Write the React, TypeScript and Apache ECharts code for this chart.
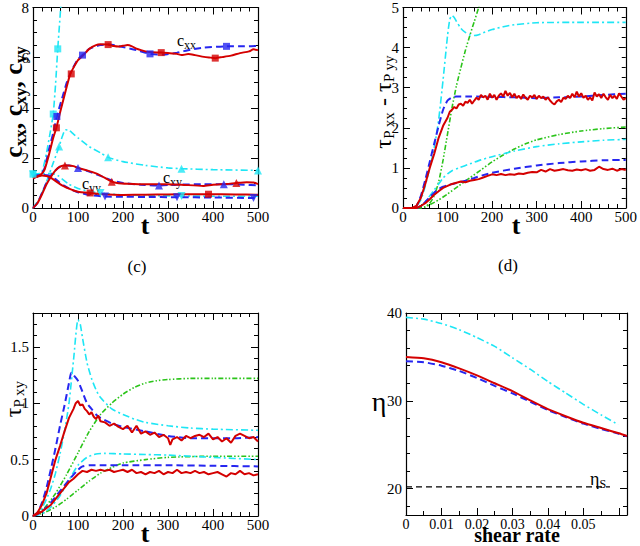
import { useEffect, useRef } from "react";
import * as echarts from "echarts";

// panel (c) top-left: conformation tensor components vs t
const cxxRed = [[0,1.2],[15,1.3],[25,1.5],[35,2.1],[45,2.8],[52,3.2],[60,3.8],[70,4.5],[82,5.3],[90,5.6],[100,5.9],[112,6.1],[125,6.35],[140,6.5],[150,6.53],[167,6.52],[180,6.46],[190,6.44],[200,6.47],[210,6.5],[220,6.45],[230,6.36],[240,6.3],[250,6.25],[260,6.22],[285,6.2],[300,6.18],[320,6.15],[330,6.1],[345,6.14],[360,6.1],[380,6.03],[395,6.0],[405,5.98],[420,6.02],[440,6.08],[460,6.18],[480,6.25],[490,6.33],[500,6.3]];
const cxxBlue = [[0,1.2],[15,1.3],[25,1.55],[35,2.3],[45,3.0],[53,3.65],[65,4.4],[75,5.0],[85,5.45],[100,5.95],[110,6.1],[125,6.35],[150,6.5],[170,6.52],[200,6.42],[230,6.3],[260,6.15],[290,6.12],[320,6.2],[350,6.32],[380,6.4],[430,6.45],[470,6.45],[500,6.47]];
const cxxCyan = [[0,1.35],[10,1.35],[20,1.45],[30,2.2],[40,3.2],[45,3.75],[50,4.9],[55,6.35],[60,7.6],[64,8.6]];
const cxyRed = [[0,0],[10,0.2],[20,0.55],[30,0.95],[40,1.25],[50,1.5],[60,1.65],[71,1.7],[80,1.7],[90,1.67],[100,1.6],[120,1.5],[140,1.38],[160,1.2],[175,1.05],[190,0.99],[210,0.97],[250,0.95],[300,0.95],[330,0.93],[378,0.88],[400,0.93],[430,0.96],[452,1.0],[475,1.03],[490,1.02],[500,0.95]];
const cxyBlue = [[0,0],[10,0.2],[20,0.6],[30,1.0],[40,1.3],[50,1.5],[60,1.65],[70,1.7],[80,1.7],[100,1.6],[125,1.45],[150,1.28],[175,1.1],[200,1.0],[240,0.93],[280,0.9],[320,0.93],[380,0.95],[424,0.95],[470,0.93],[500,0.9]];
const cxyCyan = [[0,0],[15,0.4],[30,1.05],[45,1.8],[58,2.45],[65,2.85],[72,3.12],[80,3.1],[90,2.95],[100,2.8],[125,2.45],[150,2.2],[167,2.02],[200,1.85],[250,1.7],[300,1.6],[330,1.57],[400,1.53],[500,1.5]];
const cyyRed = [[0,1.2],[10,1.25],[20,1.3],[30,1.28],[40,1.2],[50,1.08],[60,0.95],[70,0.85],[80,0.77],[90,0.7],[100,0.65],[127,0.6],[150,0.56],[200,0.52],[250,0.53],[300,0.54],[350,0.55],[390,0.55],[450,0.54],[500,0.53]];
const cyyBlue = [[0,1.3],[20,1.32],[35,1.3],[50,1.15],[60,1.0],[70,0.88],[80,0.78],[100,0.63],[125,0.52],[160,0.46],[200,0.45],[250,0.44],[320,0.43],[400,0.42],[490,0.4],[500,0.4]];
const cyyCyan = [[0,1.35],[20,1.37],[40,1.38],[55,1.3],[65,1.15],[80,0.95],[100,0.78],[120,0.68],[150,0.6],[160,0.58],[200,0.52],[250,0.5],[330,0.48],[400,0.47],[500,0.47]];
const cxxRedMarks = [[52,3.2],[85,5.35],[167,6.52],[285,6.2],[405,5.98]];
const cxxBlueMarks = [[53,3.65],[110,6.1],[260,6.15],[430,6.45]];
const cxxCyanMarks = [[0,1.35],[45,3.75],[55,6.35]];
const cxyRedMarks = [[71,1.7],[175,1.05],[452,1.0]];
const cxyBlueMarks = [[100,1.6],[280,0.9],[424,0.95]];
const cxyCyanMarks = [[58,2.45],[167,2.02],[330,1.57],[500,1.5]];
const cyyRedMarks = [[127,0.6],[390,0.55]];
const cyyBlueMarks = [[160,0.46],[320,0.43],[490,0.4]];
const cyyCyanMarks = [[0,1.35],[150,0.6],[330,0.48]];

// panel (d) top-right: first normal stress difference vs t
const n1RedHi = [[0,0],[20,0],[30,0.05],[40,0.25],[50,0.6],[60,1.0],[70,1.35],[80,1.75],[90,2.05],[100,2.25],[105,2.4],[110,2.45],[115,2.52],[120,2.48],[125,2.58],[130,2.6],[135,2.55],[140,2.65],[145,2.62],[150,2.7],[155,2.6],[160,2.68],[165,2.75],[170,2.7],[175,2.82],[180,2.76],[185,2.8],[190,2.7],[195,2.85],[200,2.75],[205,2.82],[210,2.7],[215,2.8],[220,2.86],[225,2.78],[230,2.92],[235,2.8],[240,2.87],[245,2.76],[250,2.85],[255,2.74],[260,2.8],[265,2.72],[270,2.83],[275,2.75],[280,2.7],[285,2.8],[290,2.76],[295,2.82],[300,2.72],[305,2.8],[310,2.74],[315,2.78],[320,2.7],[325,2.76],[330,2.68],[335,2.62],[340,2.58],[345,2.66],[350,2.7],[355,2.64],[360,2.75],[365,2.72],[370,2.8],[375,2.74],[380,2.85],[385,2.76],[390,2.9],[395,2.78],[400,2.86],[405,2.75],[410,2.8],[415,2.7],[420,2.76],[425,2.68],[430,2.88],[435,2.78],[440,2.84],[445,2.74],[450,2.85],[455,2.76],[460,2.7],[465,2.82],[470,2.74],[475,2.8],[480,2.72],[485,2.86],[490,2.78],[495,2.7],[500,2.74]];
const n1BlueHi = [[0,0],[20,0],[30,0.05],[40,0.3],[50,0.7],[60,1.15],[70,1.6],[80,2.05],[90,2.45],[100,2.68],[110,2.76],[120,2.78],[150,2.78],[200,2.77],[250,2.76],[300,2.74],[350,2.76],[400,2.78],[450,2.82],[500,2.85]];
const n1CyanHi = [[0,0],[20,0],[30,0.05],[40,0.2],[50,0.55],[60,1.0],[70,1.5],[80,2.2],[90,3.2],[100,4.3],[105,4.7],[110,4.8],[115,4.75],[120,4.65],[130,4.48],[140,4.38],[150,4.32],[160,4.3],[170,4.32],[180,4.37],[200,4.45],[225,4.52],[250,4.57],[300,4.62],[400,4.63],[500,4.63]];
const n1GreenHi = [[0,0],[40,0],[50,0.03],[60,0.12],[70,0.3],[80,0.65],[90,1.2],[100,1.85],[110,2.5],[120,3.05],[130,3.5],[140,3.93],[150,4.3],[160,4.65],[170,5.0],[180,5.35]];
const n1RedLo = [[0,0],[30,0],[40,0.05],[50,0.12],[60,0.22],[70,0.33],[80,0.42],[90,0.5],[100,0.55],[110,0.6],[120,0.63],[130,0.66],[140,0.64],[150,0.68],[160,0.7],[170,0.72],[180,0.76],[190,0.8],[200,0.84],[210,0.82],[220,0.85],[230,0.82],[240,0.84],[250,0.83],[260,0.86],[270,0.85],[280,0.88],[290,0.9],[300,0.89],[310,0.95],[320,0.91],[330,0.97],[340,0.93],[350,0.95],[360,0.97],[370,0.94],[380,0.93],[390,0.96],[400,0.94],[410,0.97],[420,0.93],[430,0.95],[440,1.03],[450,0.97],[460,0.95],[470,0.98],[480,0.93],[490,0.97],[500,0.95]];
const n1BlueLo = [[0,0],[30,0],[40,0.05],[50,0.15],[60,0.27],[70,0.38],[80,0.47],[90,0.53],[100,0.57],[120,0.62],[140,0.68],[160,0.75],[180,0.82],[200,0.88],[250,0.98],[300,1.06],[350,1.12],[400,1.16],[450,1.19],[500,1.2]];
const n1CyanLo = [[0,0],[30,0],[40,0.05],[50,0.15],[60,0.3],[70,0.45],[80,0.6],[90,0.75],[100,0.85],[110,0.93],[125,1.0],[150,1.1],[175,1.2],[200,1.28],[250,1.42],[300,1.53],[350,1.6],[400,1.65],[450,1.69],[500,1.71]];
const n1GreenLo = [[0,0],[40,0],[50,0.03],[60,0.08],[80,0.2],[100,0.35],[125,0.55],[150,0.75],[175,0.95],[200,1.15],[225,1.32],[250,1.47],[275,1.6],[300,1.7],[350,1.83],[400,1.92],[450,1.98],[500,2.02]];

// panel bottom-left: shear stress vs t
const sxyRedHi = [[0,0],[10,0.03],[20,0.1],[30,0.2],[40,0.35],[50,0.5],[60,0.62],[70,0.75],[80,0.87],[90,0.95],[95,1.0],[100,1.02],[105,0.98],[110,0.99],[115,0.95],[120,0.93],[125,0.9],[130,0.92],[135,0.88],[140,0.86],[145,0.89],[150,0.84],[160,0.83],[170,0.8],[180,0.82],[190,0.79],[200,0.77],[210,0.8],[220,0.74],[230,0.8],[240,0.73],[250,0.75],[260,0.72],[270,0.74],[280,0.7],[290,0.72],[300,0.69],[305,0.63],[310,0.68],[320,0.7],[330,0.67],[340,0.71],[350,0.69],[360,0.71],[370,0.72],[380,0.7],[390,0.73],[400,0.68],[410,0.7],[420,0.66],[430,0.69],[440,0.65],[450,0.71],[460,0.73],[470,0.71],[480,0.69],[490,0.7],[500,0.66]];
const sxyBlueHi = [[0,0],[10,0.03],[20,0.12],[30,0.25],[40,0.42],[50,0.6],[60,0.8],[70,0.98],[80,1.18],[85,1.27],[90,1.25],[100,1.2],[110,1.1],[120,1.0],[130,0.95],[140,0.9],[150,0.87],[175,0.82],[200,0.79],[250,0.75],[300,0.71],[350,0.69],[400,0.69],[450,0.69],[500,0.7]];
const sxyCyanHi = [[0,0],[10,0.02],[20,0.07],[30,0.15],[40,0.25],[50,0.38],[60,0.55],[70,0.75],[80,1.0],[90,1.38],[100,1.74],[105,1.7],[110,1.58],[120,1.36],[130,1.22],[140,1.12],[150,1.05],[175,0.95],[200,0.9],[225,0.86],[250,0.83],[300,0.8],[350,0.78],[400,0.77],[500,0.76]];
const sxyGreenHi = [[0,0],[25,0.07],[50,0.2],[75,0.37],[100,0.56],[125,0.75],[150,0.9],[175,1.0],[200,1.08],[225,1.14],[250,1.18],[275,1.2],[300,1.21],[350,1.22],[400,1.22],[500,1.22]];
const sxyRedLo = [[0,0],[20,0.04],[40,0.1],[60,0.2],[80,0.3],[90,0.33],[100,0.37],[110,0.4],[120,0.39],[130,0.41],[140,0.4],[150,0.41],[160,0.4],[170,0.41],[180,0.39],[190,0.4],[200,0.41],[210,0.39],[220,0.41],[230,0.38],[240,0.39],[250,0.37],[260,0.39],[270,0.38],[280,0.4],[290,0.37],[300,0.39],[310,0.38],[320,0.41],[330,0.38],[340,0.39],[350,0.38],[360,0.4],[370,0.38],[380,0.39],[390,0.37],[400,0.38],[410,0.39],[420,0.37],[430,0.35],[440,0.38],[450,0.37],[460,0.4],[470,0.37],[480,0.38],[490,0.36],[500,0.37]];
const sxyBlueLo = [[0,0],[20,0.04],[40,0.12],[60,0.22],[80,0.32],[100,0.41],[110,0.44],[125,0.45],[150,0.45],[200,0.45],[300,0.45],[400,0.445],[500,0.44]];
const sxyCyanLo = [[0,0],[20,0.02],[40,0.08],[60,0.18],[80,0.32],[100,0.45],[120,0.52],[140,0.55],[160,0.555],[200,0.55],[250,0.545],[300,0.54],[400,0.52],[500,0.5]];
const sxyGreenLo = [[0,0],[25,0.03],[50,0.08],[75,0.15],[100,0.23],[125,0.31],[150,0.38],[175,0.43],[200,0.47],[250,0.5],[300,0.52],[400,0.53],[500,0.53]];

// panel bottom-right: viscosity vs shear rate
const etaRed = [[0,35.0],[0.005,34.85],[0.01,34.4],[0.015,33.7],[0.02,32.9],[0.025,32.0],[0.03,31.1],[0.035,30.05],[0.04,29.05],[0.045,28.25],[0.05,27.5],[0.055,26.9],[0.06,26.3],[0.0623,26.0]];
const etaBlue = [[0,34.5],[0.005,34.4],[0.01,34.0],[0.015,33.4],[0.02,32.6],[0.025,31.7],[0.03,30.85],[0.035,29.9],[0.04,28.95],[0.045,28.15],[0.05,27.4],[0.055,26.8],[0.06,26.25],[0.0623,25.95]];
const etaCyan = [[0,39.5],[0.005,39.3],[0.01,38.8],[0.015,38.1],[0.02,37.2],[0.025,36.2],[0.03,34.9],[0.035,33.6],[0.04,32.2],[0.045,30.9],[0.05,29.6],[0.055,28.4],[0.0598,27.3]];
const etaSolvent = [[0,20.2],[0.0575,20.2]];

const RED = "#d40000";
const BLUE = "#2626f0";
const CYAN = "#1ee6f5";
const GREEN = "#2bc41a";
const SERIF = "'Liberation Serif', 'DejaVu Serif', serif";

const grids = [
  { left: 33, top: 5, width: 225, height: 203 },
  { left: 403, top: 5, width: 224, height: 203 },
  { left: 33, top: 313, width: 225, height: 203 },
  { left: 406, top: 313, width: 221, height: 202 },
];

const styles: any = {
  red: { color: RED, width: 2, type: "solid" },
  blue: { color: BLUE, width: 2, type: [7, 4] },
  cyan: { color: CYAN, width: 1.6, type: [7, 3, 2, 3] },
  green: { color: GREEN, width: 1.6, type: [5, 2, 1.5, 2, 1.5, 2] },
  black: { color: "#000", width: 1.2, type: [6, 4] },
};

function line(data: number[][], style: string, g: number, smooth = true) {
  return {
    type: "line",
    data,
    xAxisIndex: g * 2,
    yAxisIndex: g * 2,
    showSymbol: false,
    symbol: "none",
    smooth: smooth ? 0.2 : false,
    lineStyle: styles[style],
    clip: true,
  };
}

function marks(data: number[][], color: string, shape: string, g: number) {
  const down = shape === "down";
  return {
    type: "scatter",
    data,
    xAxisIndex: g * 2,
    yAxisIndex: g * 2,
    symbol: shape === "rect" ? "rect" : "triangle",
    symbolRotate: down ? 180 : 0,
    symbolSize: shape === "rect" ? 7 : 8,
    itemStyle: { color },
    z: 3,
  };
}

function axisPair(dim: "x" | "y", g: number, o: any) {
  const base = {
    type: "value",
    gridIndex: g,
    min: o.min,
    max: o.max,
    interval: o.interval,
    splitNumber: o.splitNumber,
    splitLine: { show: false },
    axisLine: { show: true, onZero: false, lineStyle: { color: "#000", width: 1.2 } },
    axisTick: { show: true, inside: true, length: 7, lineStyle: { color: "#000" } },
    minorTick: { show: true, splitNumber: o.minor, length: 4, lineStyle: { color: "#000" } },
  };
  const fmt = (v: number) => (o.keep(v) ? String(+v.toFixed(4)) : "");
  const main = {
    ...base,
    position: dim === "x" ? "bottom" : "left",
    axisLabel: {
      show: true,
      fontFamily: SERIF,
      fontSize: o.font || 15,
      lineHeight: 12,
      color: "#000",
      margin: dim === "x" ? 3 : 4,
      formatter: fmt,
      showMinLabel: true,
      showMaxLabel: true,
    },
  };
  const mirror = {
    ...base,
    position: dim === "x" ? "top" : "right",
    axisLabel: { show: false },
  };
  return [main, mirror];
}

const isMult = (step: number, top = Infinity) => (v: number) =>
  v <= top + 1e-9 && Math.abs(v / step - Math.round(v / step)) < 1e-6;

function sub(main: string, s: string) {
  return `{m|${main}}{s|${s}}`;
}

function App() {
  const chartRef = useRef(null);

  useEffect(() => {
    const chart = echarts.init(chartRef.current, null, { renderer: "svg" });

    const tX = { min: 0, max: 500, interval: 100, minor: 5, keep: isMult(100) };
    const xAxis = [
      ...axisPair("x", 0, tX),
      ...axisPair("x", 1, tX),
      ...axisPair("x", 2, tX),
      ...axisPair("x", 3, { min: 0, max: 0.0623, interval: 0.01, minor: 2, font: 14, keep: isMult(0.01, 0.05) }),
    ];
    const yAxis = [
      ...axisPair("y", 0, { min: 0, max: 8, interval: 2, minor: 4, keep: isMult(2) }),
      ...axisPair("y", 1, { min: 0, max: 5, interval: 1, minor: 4, keep: isMult(1) }),
      ...axisPair("y", 2, { min: 0, max: 1.8, interval: 0.5, minor: 5, keep: isMult(0.5) }),
      ...axisPair("y", 3, { min: 17, max: 40, splitNumber: 2, minor: 5, keep: isMult(10) }),
    ];

    const rich = (size: number, subSize: number, weight: string, pad: number) => ({
      m: { fontFamily: SERIF, fontSize: size, fontWeight: weight, fill: "#000" },
      s: { fontFamily: SERIF, fontSize: subSize, fontWeight: weight, fill: "#000", padding: [pad, 0, 0, 0] },
      n: { fontFamily: SERIF, fontSize: size, fontWeight: weight, fill: "#000" },
    });

    const txt = (x: number, y: number, text: string, size: number, weight = "normal", rot = 0, r?: any, align = "center", lh?: number) => ({
      type: "text",
      x,
      y,
      rotation: rot,
      style: {
        text,
        fontFamily: SERIF,
        fontSize: size,
        fontWeight: weight,
        lineHeight: lh,
        fill: "#000",
        align,
        verticalAlign: "middle",
        rich: r,
      },
    });

    const graphic = [
      txt(145, 225, "t", 26, "bold", 0, undefined, "center", 18),
      txt(516, 225, "t", 26, "bold", 0, undefined, "center", 18),
      txt(145, 533, "t", 26, "bold", 0, undefined, "center", 18),
      txt(517, 535, "shear rate", 20, "bold", 0, undefined, "center", 12),
      txt(137, 266, "(c)", 17),
      txt(508, 265, "(d)", 17),
      txt(13, 102, `${sub("c", "xx")}{n|, }${sub("c", "xy")}{n|, }${sub("c", "yy")}`, 26, "bold", Math.PI / 2, rich(26, 17, "bold", 14)),
      txt(383, 102, `${sub("τ", "P xx")}{n| - }${sub("τ", "P yy")}`, 24, "normal", Math.PI / 2, rich(24, 15, "normal", 12)),
      txt(13, 399, sub("τ", "P xy"), 24, "normal", Math.PI / 2, rich(24, 15, "normal", 12)),
      txt(379, 401, "η", 28),
      txt(177, 40, sub("c", "xx"), 16, "normal", 0, rich(16, 12, "normal", 9), "left"),
      txt(163, 177, sub("c", "xy"), 16, "normal", 0, rich(16, 12, "normal", 9), "left"),
      txt(82, 183, sub("c", "yy"), 16, "normal", 0, rich(16, 12, "normal", 9), "left"),
      txt(590, 479, sub("η", "S"), 18, "normal", 0, rich(18, 12, "normal", 10), "left"),
    ];

    const series = [
      line(cxxCyan, "cyan", 0),
      line(cxyCyan, "cyan", 0),
      line(cyyCyan, "cyan", 0),
      line(cxxBlue, "blue", 0),
      line(cxyBlue, "blue", 0),
      line(cyyBlue, "blue", 0),
      line(cxxRed, "red", 0),
      line(cxyRed, "red", 0),
      line(cyyRed, "red", 0),
      marks(cxxCyanMarks, CYAN, "rect", 0),
      marks(cxyCyanMarks, CYAN, "up", 0),
      marks(cyyCyanMarks, CYAN, "down", 0),
      marks(cxxBlueMarks, BLUE, "rect", 0),
      marks(cxyBlueMarks, BLUE, "up", 0),
      marks(cyyBlueMarks, BLUE, "down", 0),
      marks(cxxRedMarks, RED, "rect", 0),
      marks(cxyRedMarks, RED, "up", 0),
      marks(cyyRedMarks, RED, "rect", 0),

      line(n1GreenHi, "green", 1),
      line(n1GreenLo, "green", 1),
      line(n1CyanHi, "cyan", 1),
      line(n1CyanLo, "cyan", 1),
      line(n1BlueHi, "blue", 1),
      line(n1BlueLo, "blue", 1),
      line(n1RedHi, "red", 1, false),
      line(n1RedLo, "red", 1, false),

      line(sxyGreenHi, "green", 2),
      line(sxyGreenLo, "green", 2),
      line(sxyCyanHi, "cyan", 2),
      line(sxyCyanLo, "cyan", 2),
      line(sxyBlueHi, "blue", 2),
      line(sxyBlueLo, "blue", 2),
      line(sxyRedHi, "red", 2, false),
      line(sxyRedLo, "red", 2, false),

      line(etaSolvent, "black", 3, false),
      line(etaCyan, "cyan", 3),
      line(etaBlue, "blue", 3),
      line(etaRed, "red", 3),
    ];

    chart.setOption({
      animation: false,
      backgroundColor: "#fff",
      grid: grids.map((g) => ({ ...g, containLabel: false })),
      xAxis,
      yAxis,
      series,
      graphic,
    });

    return () => {
      chart.dispose();
    };
  }, []);

  return <div ref={chartRef} style={{ position: "absolute", left: 0, top: 0, width: 640, height: 546 }} />;
}

export default App;
